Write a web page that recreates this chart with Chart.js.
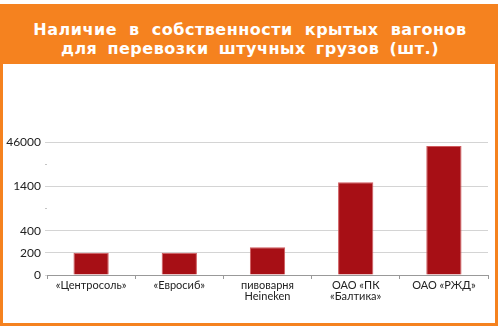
<!DOCTYPE html>
<html>
<head>
<meta charset="utf-8">
<script src="https://cdn.jsdelivr.net/npm/chart.js@4/dist/chart.umd.min.js"></script>
<style>
  body { margin: 0; width: 500px; height: 329px; background: #fff; position: relative; overflow: hidden; }
  #frame { position: absolute; left: 0; top: 4px; width: 498px; height: 322px; background: #f5821f; }
  #panel { position: absolute; left: 3px; top: 64px; width: 492px; height: 259px; background: #fff; }
  #title {
    position: absolute; left: 0; top: 20px; width: 500px; text-align: center;
    color: #fff; font: bold 16px "DejaVu Sans", sans-serif; line-height: 19px;
  }
  #title .l1 { letter-spacing: 0.5px; word-spacing: 6px; }
  #title .l2 { letter-spacing: 0.5px; word-spacing: 4px; }
  #chart { position: absolute; left: 0; top: 0; }
</style>
</head>
<body>
<div id="frame"></div>
<div id="panel"></div>
<div id="title"><span class="l1">Наличие в собственности крытых вагонов</span><br><span class="l2">для перевозки штучных грузов (шт.)</span></div>
<canvas id="chart" width="500" height="329"></canvas>
<script>
// Data
const categories = ["«Центросоль»", "«Евросиб»", ["пивоварня", "Heineken"], ["ОАО «ПК", "«Балтика»"], "ОАО «РЖД»"];
const wagons = [200, 200, 250, 5400, 42000];

// Axis is not proportional: evenly spaced stops
const yStops = [0, 200, 400, 900, 1400, 23700, 46000];
const yTickLabels = ["0", "200", "400", "", "1400", "", "46000"];

function toAxis(v) {
  for (let i = 1; i < yStops.length; i++) {
    if (v <= yStops[i]) {
      return i - 1 + (v - yStops[i - 1]) / (yStops[i] - yStops[i - 1]);
    }
  }
  return yStops.length - 1;
}

const ctx = document.getElementById("chart").getContext("2d");
new Chart(ctx, {
  type: "bar",
  data: {
    labels: categories,
    datasets: [{
      data: wagons.map(toAxis),
      backgroundColor: "#a70f15",
      borderColor: "#cf5a5e",
      borderWidth: 1,
      barPercentage: 0.4,
      categoryPercentage: 1
    }]
  },
  options: {
    responsive: false,
    animation: false,
    layout: { padding: { top: 142, left: 0, right: 12, bottom: 0 } },
    plugins: { legend: { display: false }, tooltip: { enabled: false } },
    scales: {
      x: {
        grid: { offset: true, drawOnChartArea: false, drawTicks: true, tickLength: 4, color: "#999" },
        border: { color: "#999" },
        ticks: {
          color: "#222", padding: 1, maxRotation: 0, autoSkip: false,
          font: { family: "Lato", size: 11, lineHeight: 1.0 }
        },
        afterFit: s => { s.height = 54; }
      },
      y: {
        min: 0,
        max: yStops.length - 1,
        border: { display: false },
        grid: {
          drawTicks: true,
          tickLength: 2,
          color: c => c.index === 0 ? "#999" : (yTickLabels[c.index] ? "#d4d4d4" : "rgba(0,0,0,0)"),
          tickColor: c => yTickLabels[c.index] ? "#d4d4d4" : "#c4c4c4"
        },
        ticks: {
          stepSize: 1,
          padding: 4,
          color: "#222",
          font: { family: "Lato", size: 12 },
          callback: v => yTickLabels[v]
        },
        afterFit: s => { s.width = 47; }
      }
    }
  }
});
</script>
</body>
</html>
